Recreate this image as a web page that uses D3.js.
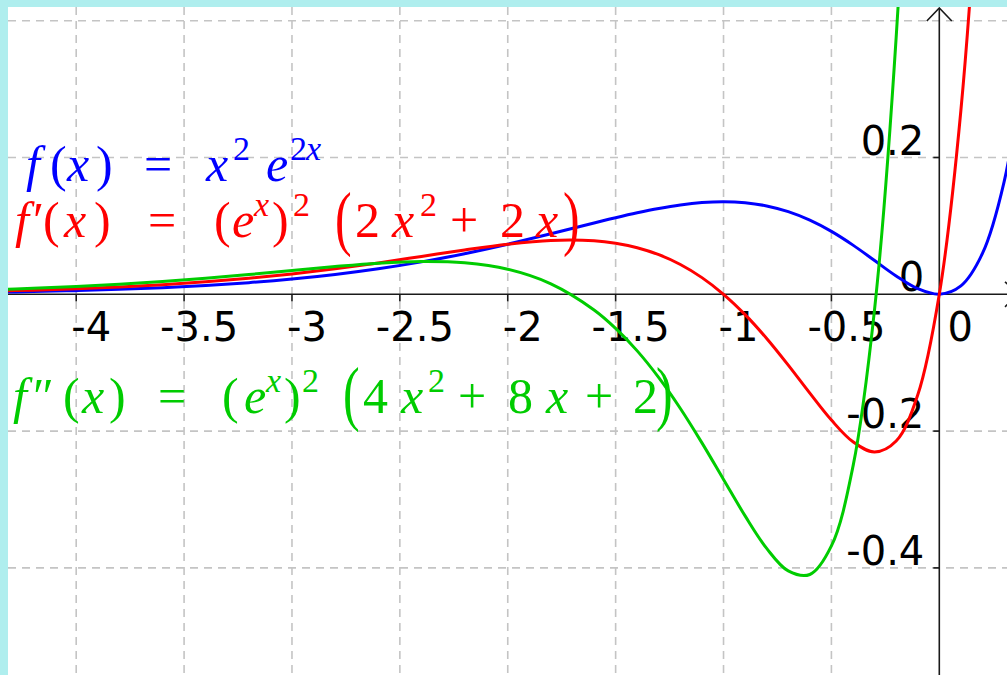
<!DOCTYPE html>
<html>
<head>
<meta charset="utf-8">
<script src="https://cdn.jsdelivr.net/npm/d3@7"></script>
<style>
  html, body { margin: 0; padding: 0; background: #fff; overflow: hidden; }
  svg { display: block; }
</style>
</head>
<body>
<svg id="chart" width="1007" height="675"></svg>
<script>
// Sample abscissas shared by the three curves
const xs = [-4.4, -4.2, -4.0, -3.8, -3.6, -3.4, -3.2, -3.0, -2.8, -2.6, -2.4, -2.2, -2.0, -1.8,
  -1.6, -1.5, -1.4, -1.3, -1.2, -1.1, -1.0, -0.9, -0.8, -0.7, -0.6, -0.5, -0.4, -0.3, -0.2,
  -0.1, 0.0, 0.1, 0.2, 0.3, 0.4];

// f(x) = x^2 e^(2x)
const fValues = [0.002918, 0.003967, 0.005367, 0.007226, 0.009676, 0.012876, 0.017015, 0.022309,
  0.028992, 0.037292, 0.047403, 0.059421, 0.073263, 0.088530, 0.104351, 0.112021, 0.119188,
  0.125523, 0.130634, 0.134072, 0.135335, 0.133892, 0.129214, 0.120833, 0.108430, 0.091970,
  0.071893, 0.049393, 0.026813, 0.008187, 0.0, 0.012214, 0.059673, 0.163991, 0.356087];

// f'(x)
const f1Values = [0.004510, 0.006044, 0.008051, 0.010650, 0.013976, 0.018177, 0.023395, 0.029746,
  0.037275, 0.045898, 0.055304, 0.064823, 0.073262, 0.078693, 0.078263, 0.074681, 0.068107,
  0.057934, 0.043545, 0.024377, 0.0, -0.029754, -0.064607, -0.103571, -0.144573, -0.183940,
  -0.215678, -0.230501, -0.214502, -0.147372, 0.0, 0.268709, 0.716076, 1.421253, 2.492606];

// f''(x)
const f2Values = [0.006668, 0.008761, 0.011406, 0.014693, 0.018695, 0.023434, 0.028845, 0.034703,
  0.040529, 0.045457, 0.048061, 0.046162, 0.036631, 0.015301, -0.022827, -0.049787, -0.082702,
  -0.121809, -0.166921, -0.217174, -0.270670, -0.323986, -0.371490, -0.404419, -0.409624,
  -0.367879, -0.251624, -0.021952, 0.375379, 1.015226, 2.0, 3.468785, 5.609, 8.673, 12.997];

const xTicks = [-4, -3.5, -3, -2.5, -2, -1.5, -1, -0.5, 0];
const xTickLabels = ["-4", "-3.5", "-3", "-2.5", "-2", "-1.5", "-1", "-0.5", "0"];
const yTicks = [0.2, 0, -0.2, -0.4];
const yTickLabels = ["0.2", "0", "-0.2", "-0.4"];
const xGrid = [-4, -3.5, -3, -2.5, -2, -1.5, -1, -0.5];
const yGrid = [0.4, 0.2, -0.2, -0.4];

const W = 1007, H = 675;
const FRAME_L = 8, FRAME_T = 7;
const BLUE = "#0000ff", RED = "#ff0000", GREEN = "#00cc00";

const svg = d3.select("#chart");

const x = d3.scaleLinear().domain([-4, 0]).range([76.2, 939.3]);
const y = d3.scaleLinear().domain([-0.4, 0.4]).range([567.9, 20.7]);

svg.append("rect").attr("width", W).attr("height", H).attr("fill", "#fff");

svg.append("defs").append("clipPath").attr("id", "plot")
  .append("rect").attr("x", FRAME_L).attr("y", FRAME_T)
  .attr("width", W - FRAME_L).attr("height", H - FRAME_T);

const plot = svg.append("g").attr("clip-path", "url(#plot)");

// dashed grid
plot.append("g").selectAll("line").data(xGrid).join("line")
  .attr("x1", d => x(d)).attr("x2", d => x(d))
  .attr("y1", FRAME_T).attr("y2", H)
  .attr("stroke", "#c4c4c4").attr("stroke-width", 1.6)
  .attr("stroke-dasharray", "8,6");
plot.append("g").selectAll("line").data(yGrid).join("line")
  .attr("y1", d => y(d)).attr("y2", d => y(d))
  .attr("x1", FRAME_L).attr("x2", W)
  .attr("stroke", "#c4c4c4").attr("stroke-width", 1.6)
  .attr("stroke-dasharray", "8,6");

// axes
const axisColor = "#1a1a1a";
const x0 = x(0), y0 = y(0);
plot.append("line").attr("x1", FRAME_L).attr("x2", 1018).attr("y1", y0).attr("y2", y0)
  .attr("stroke", axisColor).attr("stroke-width", 1.6);
plot.append("line").attr("x1", x0).attr("x2", x0).attr("y1", 8).attr("y2", H)
  .attr("stroke", axisColor).attr("stroke-width", 1.6);
plot.append("path").attr("d", `M${x0 - 12.5},21 L${x0},8 L${x0 + 12.5},21`)
  .attr("fill", "none").attr("stroke", axisColor).attr("stroke-width", 1.6);
plot.append("path").attr("d", `M1005,${y0 - 12.5} L1018,${y0} L1005,${y0 + 12.5}`)
  .attr("fill", "none").attr("stroke", axisColor).attr("stroke-width", 1.6);

// tick marks
plot.append("g").selectAll("line").data(xTicks.filter(d => d !== 0)).join("line")
  .attr("x1", d => x(d)).attr("x2", d => x(d)).attr("y1", y0).attr("y2", y0 + 7)
  .attr("stroke", axisColor).attr("stroke-width", 1.6);
plot.append("g").selectAll("line").data(yTicks.filter(d => d !== 0)).join("line")
  .attr("y1", d => y(d)).attr("y2", d => y(d)).attr("x1", x0 - 6).attr("x2", x0)
  .attr("stroke", axisColor).attr("stroke-width", 1.6);

// tick labels
const tickFont = "DejaVu Sans, sans-serif";
plot.append("g").selectAll("text").data(xTicks).join("text")
  .attr("x", d => d === 0 ? x(d) + 21 : x(d) + 15)
  .attr("y", y0 + 47)
  .attr("text-anchor", "middle")
  .attr("font-family", tickFont).attr("font-size", 40).attr("fill", "#000")
  .text((d, i) => xTickLabels[i]);
plot.append("g").selectAll("text").data(yTicks).join("text")
  .attr("x", x0 - 15)
  .attr("y", d => y(d) - 3)
  .attr("text-anchor", "end")
  .attr("font-family", tickFont).attr("font-size", 40).attr("fill", "#000")
  .text((d, i) => yTickLabels[i]);

// curves
const pts = vals => xs.map((v, i) => [v, vals[i]]);
const line = d3.line().x(d => x(d[0])).y(d => y(d[1])).curve(d3.curveCatmullRom.alpha(0.5));
[[fValues, BLUE], [f1Values, RED], [f2Values, GREEN]].forEach(([vals, c]) => {
  plot.append("path").attr("d", line(pts(vals)))
    .attr("fill", "none").attr("stroke", c).attr("stroke-width", 3)
    .attr("stroke-linejoin", "round");
});

// formula labels
const mathFont = "Liberation Serif, Times New Roman, Times, Nimbus Roman, FreeSerif, DejaVu Serif, serif";
const SIZE = 50, SUP = 34, SUP_RISE = 21;
function formula(pieces, baseline, color, bigTop) {
  const g = svg.append("g").attr("fill", color);
  pieces.forEach(p => {
    if (p.big) {
      // stretched delimiter spanning the bracketed group
      g.append("text")
        .attr("transform", `translate(${p.x},${bigTop + 50}) scale(1.0,1.45)`)
        .attr("font-family", mathFont)
        .attr("font-size", SIZE)
        .text(p.t);
      return;
    }
    g.append("text")
      .attr("x", p.x)
      .attr("y", p.sup ? baseline - SUP_RISE : baseline)
      .attr("font-family", mathFont)
      .attr("font-size", p.sup ? SUP : SIZE)
      .attr("font-style", p.it ? "italic" : "normal")
      .text(p.t);
  });
}

formula([
  {t: "f", x: 26, it: true}, {t: "(", x: 50}, {t: "x", x: 67, it: true}, {t: ")", x: 96},
  {t: "=", x: 144}, {t: "x", x: 206, it: true}, {t: "2", x: 233, sup: true},
  {t: "e", x: 266, it: true}, {t: "2", x: 290, sup: true}, {t: "x", x: 306, it: true, sup: true}
], 181, BLUE);

formula([
  {t: "f", x: 15, it: true}, {t: "′", x: 33}, {t: "(", x: 43}, {t: "x", x: 64, it: true}, {t: ")", x: 94},
  {t: "=", x: 148}, {t: "(", x: 214}, {t: "e", x: 232, it: true}, {t: "x", x: 254, it: true, sup: true},
  {t: ")", x: 272}, {t: "2", x: 293, sup: true},
  {t: "(", x: 335, big: true}, {t: "2", x: 355}, {t: "x", x: 392, it: true}, {t: "2", x: 420, sup: true},
  {t: "+", x: 450}, {t: "2", x: 500}, {t: "x", x: 536, it: true}, {t: ")", x: 563, big: true}
], 237, RED, 192);

formula([
  {t: "f", x: 13, it: true}, {t: "″", x: 33}, {t: "(", x: 63}, {t: "x", x: 82, it: true}, {t: ")", x: 109},
  {t: "=", x: 158}, {t: "(", x: 222}, {t: "e", x: 244, it: true}, {t: "x", x: 266, it: true, sup: true},
  {t: ")", x: 284}, {t: "2", x: 302, sup: true},
  {t: "(", x: 343, big: true}, {t: "4", x: 363}, {t: "x", x: 401, it: true}, {t: "2", x: 428, sup: true},
  {t: "+", x: 458}, {t: "8", x: 508}, {t: "x", x: 546, it: true}, {t: "+", x: 585},
  {t: "2", x: 633}, {t: ")", x: 656, big: true}
], 413, GREEN, 367);

// pale frame along the left and top edges
svg.append("rect").attr("x", 0).attr("y", 0).attr("width", W).attr("height", FRAME_T).attr("fill", "#afeeee");
svg.append("rect").attr("x", 0).attr("y", 0).attr("width", FRAME_L).attr("height", H).attr("fill", "#afeeee");
</script>
</body>
</html>
